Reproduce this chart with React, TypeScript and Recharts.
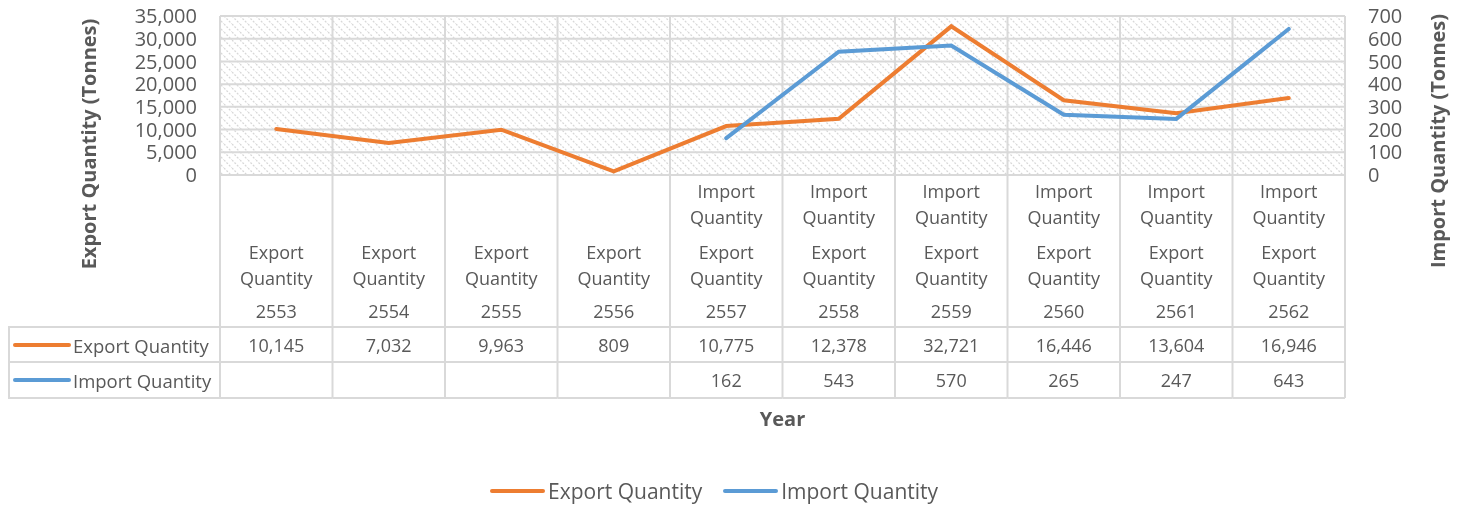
import React from "react";
import { LineChart, Line, XAxis, YAxis, CartesianGrid, Legend } from "recharts";

const years = ["2553", "2554", "2555", "2556", "2557", "2558", "2559", "2560", "2561", "2562"];
const exportQty = [10145, 7032, 9963, 809, 10775, 12378, 32721, 16446, 13604, 16946];
const importQty: (number | null)[] = [null, null, null, null, 162, 543, 570, 265, 247, 643];
const leftTicks = [0, 5000, 10000, 15000, 20000, 25000, 30000, 35000];
const rightTicks = [0, 100, 200, 300, 400, 500, 600, 700];

const data = years.map((y, i) => ({ year: y, exp: exportQty[i], imp: importQty[i] }));

// chart is pinned to the page corner, so svg coords = page coords
const W = 1463;
const H = 506;
const LEFT_W = 220;
const RIGHT_W = 118;
const PLOT_W = W - LEFT_W - RIGHT_W;
const BAND = PLOT_W / years.length;
const PLOT_TOP = 16;
const PLOT_BOTTOM = 175;
const X_AXIS_H = 223;

const FONT = "'Open Sans', sans-serif";
const TXT = "#595959";
const LINE_C = "#D9D9D9";
const ORANGE = "#ED7D31";
const BLUE = "#5B9BD5";

const fmt = (v: number | null) => (v == null ? "" : v.toLocaleString("en-US"));

// data table rows
const ROW1 = 327;
const ROW2 = 362;
const ROW3 = 398;

function XTick(props: any) {
  const { x, index } = props;
  const l = x - BAND / 2;
  const r = x + BAND / 2;
  const hasImp = importQty[index] != null;
  const t = { fontSize: 18, fill: TXT, fontFamily: FONT, textAnchor: "middle" as const, dominantBaseline: "central" as const };
  return (
    <g>
      <line x1={l} x2={l} y1={PLOT_BOTTOM} y2={ROW3} stroke={LINE_C} strokeWidth={2} />
      {index === years.length - 1 && <line x1={r} x2={r} y1={PLOT_BOTTOM} y2={ROW3} stroke={LINE_C} strokeWidth={2} />}
      {[ROW1, ROW2, ROW3].map((yy) => (
        <line key={yy} x1={l} x2={r} y1={yy} y2={yy} stroke={LINE_C} strokeWidth={2} />
      ))}
      {hasImp && (
        <>
          <text x={x} y={191} {...t}>Import</text>
          <text x={x} y={217} {...t}>Quantity</text>
        </>
      )}
      <text x={x} y={252} {...t}>Export</text>
      <text x={x} y={278} {...t}>Quantity</text>
      <text x={x} y={311} {...t}>{years[index]}</text>
      <text x={x} y={345} {...t}>{fmt(exportQty[index])}</text>
      <text x={x} y={380} {...t}>{fmt(importQty[index])}</text>
      {index === 0 && (
        <g>
          <line x1={8} x2={l} y1={ROW1} y2={ROW1} stroke={LINE_C} strokeWidth={2} />
          <line x1={8} x2={l} y1={ROW2} y2={ROW2} stroke={LINE_C} strokeWidth={2} />
          <line x1={8} x2={l} y1={ROW3} y2={ROW3} stroke={LINE_C} strokeWidth={2} />
          <line x1={9} x2={9} y1={ROW1} y2={ROW3} stroke={LINE_C} strokeWidth={2} />
          <line x1={15} x2={69} y1={345} y2={345} stroke={ORANGE} strokeWidth={4} strokeLinecap="round" />
          <text x={73} y={345} {...t} fontSize={18.5} textAnchor="start">Export Quantity</text>
          <line x1={15} x2={69} y1={380} y2={380} stroke={BLUE} strokeWidth={4} strokeLinecap="round" />
          <text x={73} y={380} {...t} fontSize={18.5} textAnchor="start">Import Quantity</text>
        </g>
      )}
    </g>
  );
}

const titleStyle = { fontSize: 20, fontWeight: 700, fill: TXT, fontFamily: FONT };

function LegendBox() {
  const item = (c: string, label: string) => (
    <div style={{ display: "flex", alignItems: "center", marginRight: 21 }}>
      <div style={{ width: 55, height: 4, background: c, borderRadius: 2, marginRight: 3 }} />
      <span style={{ fontSize: 21, color: TXT, fontFamily: FONT }}>{label}</span>
    </div>
  );
  return (
    <div style={{ display: "flex", marginLeft: 490, lineHeight: "28px" }}>
      {item(ORANGE, "Export Quantity")}
      {item(BLUE, "Import Quantity")}
    </div>
  );
}

export default function App() {
  return (
    <div style={{ position: "fixed", top: 0, left: 0, width: W, height: H }}>
      <LineChart width={W} height={H} data={data} margin={{ top: PLOT_TOP, right: 0, left: 0, bottom: H - PLOT_BOTTOM - X_AXIS_H }}>
        <defs>
          <pattern id="hatch" width="8" height="8" patternUnits="userSpaceOnUse">
            <rect width="8" height="8" fill="#ffffff" />
            <path d="M0,0 L8,8 M-4,4 L4,12 M4,-4 L12,4" stroke="#D8D8D8" strokeWidth={1.3} strokeDasharray="2 1.5" />
          </pattern>
        </defs>
        <CartesianGrid
          fill="url(#hatch)"
          fillOpacity={1}
          stroke={LINE_C}
          strokeWidth={2}
          yAxisId="left"
          verticalCoordinatesGenerator={({ offset }: any) =>
            years.map((_, i) => offset.left + i * BAND).concat([offset.left + offset.width])
          }
        />
        <XAxis
          dataKey="year"
          interval={0}
          height={X_AXIS_H}
          padding={{ left: BAND / 2, right: BAND / 2 }}
          axisLine={{ stroke: LINE_C, strokeWidth: 2 }}
          tickLine={false}
          tick={<XTick />}
          label={{
            content: ({ viewBox }: any) => (
              <text x={viewBox.x + viewBox.width / 2} y={418} textAnchor="middle" dominantBaseline="central" {...titleStyle}>
                Year
              </text>
            ),
          }}
        />
        <YAxis
          yAxisId="left"
          width={LEFT_W}
          domain={[0, 35000]}
          ticks={leftTicks}
          interval={0}
          tickFormatter={(v) => v.toLocaleString("en-US")}
          axisLine={false}
          tickLine={false}
          tickMargin={17}
          tick={{ fontSize: 20, fill: TXT, fontFamily: FONT }}
          label={{
            content: () => (
              <text x={88} y={144} textAnchor="middle" dominantBaseline="central" transform="rotate(-90 88 144)" {...titleStyle}>
                Export Quantity (Tonnes)
              </text>
            ),
          }}
        />
        <YAxis
          yAxisId="right"
          orientation="right"
          width={RIGHT_W}
          domain={[0, 700]}
          ticks={rightTicks}
          interval={0}
          axisLine={false}
          tickLine={false}
          tickMargin={17}
          tick={{ fontSize: 20, fill: TXT, fontFamily: FONT, textAnchor: "start" }}
          label={{
            content: () => (
              <text x={1437} y={141} textAnchor="middle" dominantBaseline="central" transform="rotate(-90 1437 141)" {...titleStyle}>
                Import Quantity (Tonnes)
              </text>
            ),
          }}
        />
        <Legend verticalAlign="middle" wrapperStyle={{ top: 477, left: 0, width: W }} content={() => <LegendBox />} />
        <Line yAxisId="left" dataKey="exp" name="Export Quantity" stroke={ORANGE} strokeWidth={4} dot={false} isAnimationActive={false} strokeLinecap="round" />
        <Line yAxisId="right" dataKey="imp" name="Import Quantity" stroke={BLUE} strokeWidth={4} dot={false} isAnimationActive={false} strokeLinecap="round" />
      </LineChart>
    </div>
  );
}
